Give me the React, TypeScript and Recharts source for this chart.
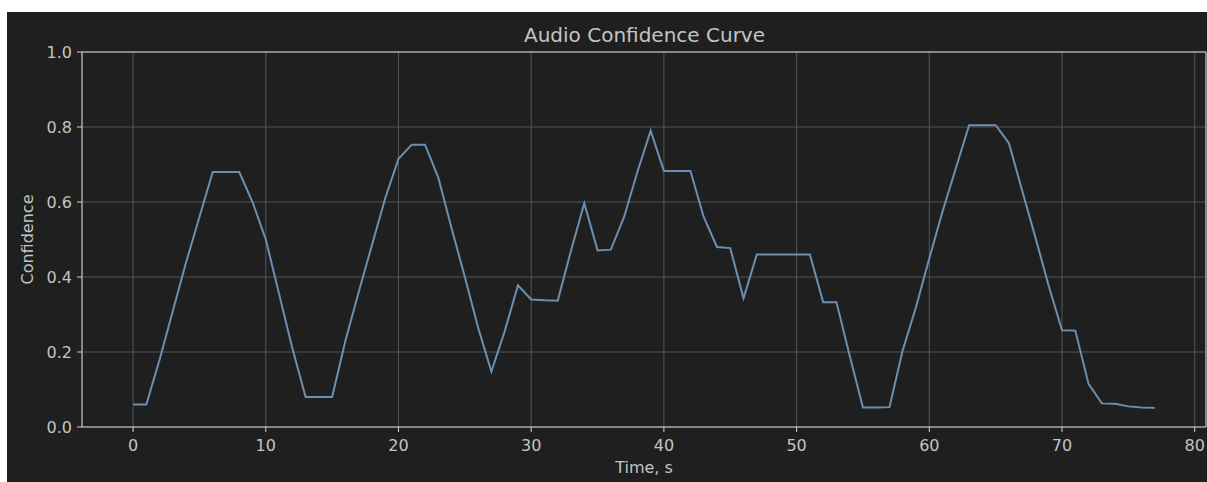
import { LineChart, Line, XAxis, YAxis, CartesianGrid, ReferenceLine } from 'recharts';

// seconds 0..77, one confidence sample per second
const timeSec = Array.from({ length: 78 }, (_, i) => i);
const confidence = [
  0.06, 0.06, 0.18, 0.31, 0.44, 0.56, 0.68, 0.68, 0.68, 0.6,
  0.5, 0.355, 0.21, 0.08, 0.08, 0.08, 0.23, 0.36, 0.485, 0.61,
  0.715, 0.753, 0.753, 0.665, 0.53, 0.4, 0.265, 0.148, 0.255, 0.378,
  0.34, 0.338, 0.337, 0.47, 0.597, 0.471, 0.473, 0.56, 0.68, 0.79,
  0.683, 0.683, 0.683, 0.56, 0.48, 0.477, 0.343, 0.46, 0.46, 0.46,
  0.46, 0.46, 0.333, 0.333, 0.19, 0.052, 0.052, 0.053, 0.205, 0.32,
  0.45, 0.575, 0.69, 0.805, 0.805, 0.805, 0.757, 0.63, 0.505, 0.376,
  0.258, 0.257, 0.115, 0.063, 0.062, 0.055, 0.052, 0.051,
];
const xTicks = [0, 10, 20, 30, 40, 50, 60, 70, 80];
const yTicks = [0, 0.2, 0.4, 0.6, 0.8, 1.0];

const data = timeSec.map((t, i) => ({ t, value: confidence[i] }));

const BG = '#1f1f1f';
const TEXT = '#c4c4c4';
const SPINE = '#d4d4d4';
const GRID = '#555555';
const FONT = '"DejaVu Sans", sans-serif';

export default function App() {
  return (
    <div style={{ position: 'absolute', left: 7, top: 12, width: 1200, height: 470, background: BG, fontFamily: FONT }}>
      <div
        style={{
          position: 'absolute',
          left: 0,
          right: 0,
          top: 13,
          textAlign: 'center',
          fontSize: 20,
          lineHeight: '20px',
          color: TEXT,
          paddingLeft: 75,
          boxSizing: 'border-box',
        }}
      >
        Audio Confidence Curve
      </div>
      <LineChart width={1200} height={470} data={data} margin={{ top: 40, right: 1, left: 0, bottom: 25 }}>
        <CartesianGrid stroke={GRID} strokeWidth={1} />
        <XAxis
          dataKey="t"
          type="number"
          domain={[-3.85, 80.85]}
          ticks={xTicks}
          allowDataOverflow
          height={30}
          tickSize={5}
          tickMargin={8}
          stroke={SPINE}
          tick={{ fill: TEXT, fontSize: 16, fontFamily: FONT }}
          label={{ value: 'Time, s', position: 'bottom', offset: 5, fill: TEXT, fontSize: 16, fontFamily: FONT }}
        />
        <YAxis
          domain={[0, 1]}
          ticks={yTicks}
          width={75}
          tickSize={5}
          tickMargin={5}
          stroke={SPINE}
          tickFormatter={(v: number) => v.toFixed(1)}
          tick={{ fill: TEXT, fontSize: 16, fontFamily: FONT }}
          label={{
            value: 'Confidence',
            angle: -90,
            position: 'insideLeft',
            offset: 20,
            fill: TEXT,
            fontSize: 16,
            fontFamily: FONT,
            style: { textAnchor: 'middle' },
          }}
        />
        <ReferenceLine y={1} stroke={SPINE} strokeWidth={1} />
        <ReferenceLine x={80.85} stroke={SPINE} strokeWidth={1} />
        <Line
          type="linear"
          dataKey="value"
          stroke="#6b8fb0"
          strokeWidth={2}
          dot={false}
          isAnimationActive={false}
        />
      </LineChart>
    </div>
  );
}
